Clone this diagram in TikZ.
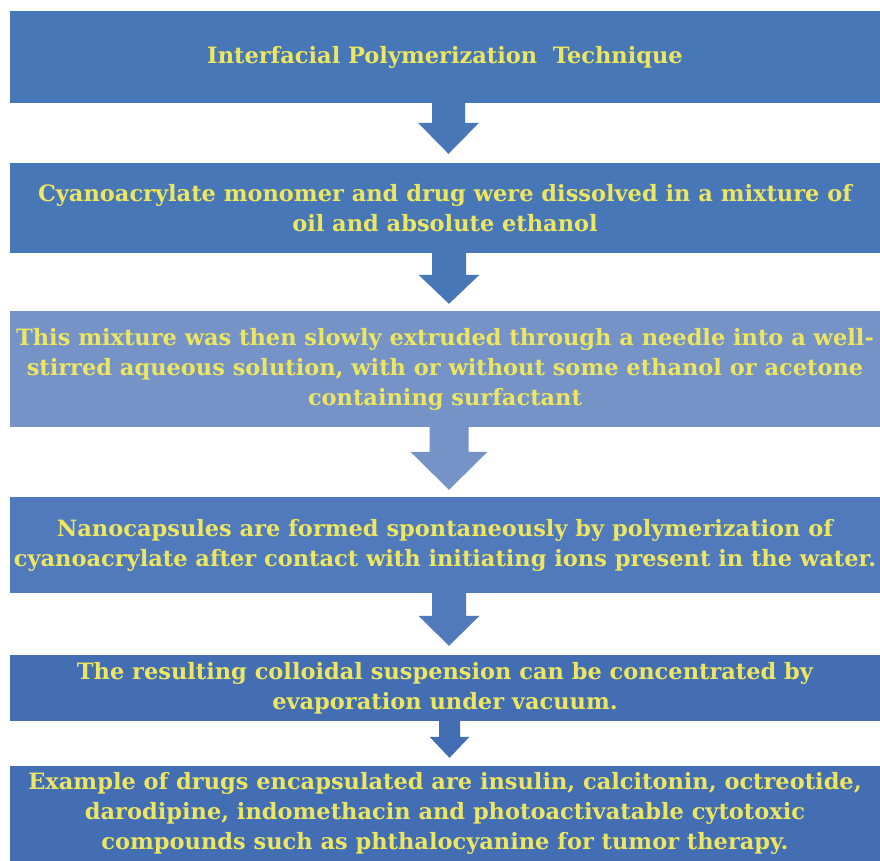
\documentclass[tikz,border=0pt]{standalone}
\usepackage{fontspec}
\setmainfont{DejaVu Serif}
\usetikzlibrary{calc}
\definecolor{boxA}{RGB}{72,119,184}
\definecolor{boxB}{RGB}{118,147,199}
\definecolor{boxC}{RGB}{80,122,188}
\definecolor{boxD}{RGB}{68,110,180}
\definecolor{txtY}{RGB}{236,230,96}
\tikzset{
  flowbox/.style={fill=#1, draw=none, minimum width=870pt, inner sep=0pt,
    align=center, text=txtY, font=\bfseries\fontsize{22.5}{30}\selectfont},
}
\newcommand\blockarrow[8]{%
  % #1 from, #2 to, #3 colour, #4 stem half, #5 head half, #6 head length, #7 gap, #8 x offset
  \path (#1.south) ++(#8,0) coordinate (s-#1);
  \path (#2.north) ++(#8,-#7) coordinate (t-#1);
  \path (t-#1) ++(0,-#6) coordinate (h-#1);
  \fill[#3] let \p1=(s-#1), \p2=(h-#1), \p3=(t-#1) in
    (\x1-#4pt,\y1) -- (\x1-#4pt,\y2) -- (\x1-#5pt,\y2) -- (\x3,\y3)
    -- (\x1+#5pt,\y2) -- (\x1+#4pt,\y2) -- (\x1+#4pt,\y1) -- cycle;
}
\begin{document}
\begin{tikzpicture}[x=1pt,y=-1pt]
\useasboundingbox (0,0) rectangle (880,861);
\fill[white] (0,0) rectangle (880,861);

\node[flowbox=boxA, minimum height=92pt] (b1) at (445,57)
  {Interfacial Polymerization\ \ Technique};
\node[flowbox=boxA, minimum height=90pt] (b2) at (445,208)
  {Cyanoacrylate monomer and drug were dissolved in a mixture of\\
   oil and absolute ethanol};
\node[flowbox=boxB, minimum height=116pt] (b3) at (445,369)
  {This mixture was then slowly extruded through a needle into a well-\\
   stirred aqueous solution, with or without some ethanol or acetone\\
   containing surfactant};
\node[flowbox=boxC, minimum height=96pt] (b4) at (445,545)
  {Nanocapsules are formed spontaneously by polymerization of\\
   cyanoacrylate after contact with initiating ions present in the water.};
\node[flowbox=boxD, minimum height=66pt] (b5) at (445,688)
  {The resulting colloidal suspension can be concentrated by\\
   evaporation under vacuum.};
\node[flowbox=boxD, minimum height=95pt] (b6) at (445,813.5)
  {Example of drugs encapsulated are insulin, calcitonin, octreotide,\\
   darodipine, indomethacin and photoactivatable cytotoxic\\
   compounds such as phthalocyanine for tumor therapy.};

\blockarrow{b1}{b2}{boxA}{16.5}{30.5}{31}{9}{3.5}
\blockarrow{b2}{b3}{boxA}{17}{30.5}{29}{7}{4}
\blockarrow{b3}{b4}{boxB}{19.5}{38.5}{38}{7}{4}
\blockarrow{b4}{b5}{boxC}{17}{30.5}{30}{9}{4}
\blockarrow{b5}{b6}{boxD}{10.5}{20}{21}{8}{4.5}
\end{tikzpicture}
\end{document}
